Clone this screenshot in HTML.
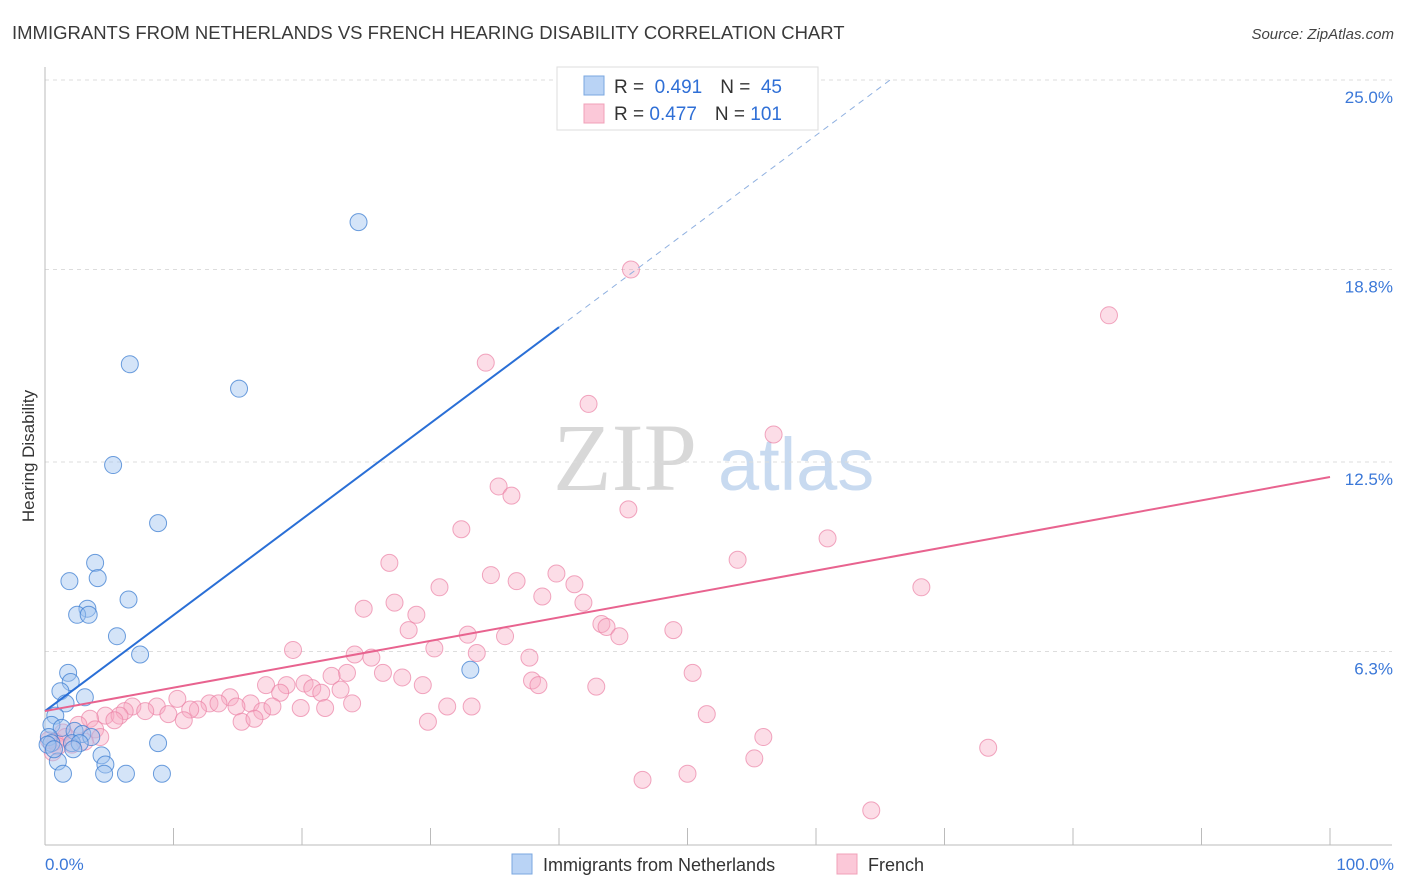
<!DOCTYPE html>
<html><head><meta charset="utf-8"><style>
body{margin:0;background:#fff;font-family:"Liberation Sans",sans-serif;}
svg{display:block}
</style></head><body>
<svg id="chart" width="1406" height="892" xmlns="http://www.w3.org/2000/svg">
<text x="12" y="39" font-size="18.5" fill="#3a3a3a">IMMIGRANTS FROM NETHERLANDS VS FRENCH HEARING DISABILITY CORRELATION CHART</text>
<text x="1394" y="39" font-size="15" fill="#444" text-anchor="end" font-style="italic">Source: ZipAtlas.com</text>
<g>
<text x="553" y="490" font-size="96" font-family="Liberation Serif,serif" fill="#d8d8d8">ZIP</text>
<text x="718" y="490" font-size="74" fill="#c8daf0">atlas</text>
</g>
<g id="grid"></g>
<g id="axes"></g>
<g id="pts"></g>
<g id="lines"></g>
<text transform="translate(34,456) rotate(-90)" font-size="17" fill="#333" text-anchor="middle">Hearing Disability</text>
<text x="45" y="870" font-size="17" fill="#3b78d8">0.0%</text>
<text x="1394" y="870" font-size="17" fill="#3b78d8" text-anchor="end">100.0%</text>
<g>
<rect x="557" y="67" width="261" height="63" fill="#fff" stroke="#ddd"/>
<rect x="584" y="76" width="20" height="19" fill="#b9d3f5" stroke="#7aa7e0"/>
<rect x="584" y="104" width="20" height="19" fill="#fbc8d8" stroke="#f0a0b8"/>
<text x="614" y="93" font-size="19" fill="#333">R = <tspan fill="#2f6fd6">&#160;0.491</tspan><tspan dx="18">N = </tspan><tspan fill="#2f6fd6">&#160;45</tspan></text>
<text x="614" y="120" font-size="19" fill="#333">R = <tspan fill="#2f6fd6">0.477</tspan><tspan dx="18">N = </tspan><tspan fill="#2f6fd6">101</tspan></text>
</g>
<g>
<rect x="512" y="854" width="20" height="20" fill="#b9d3f5" stroke="#7aa7e0"/>
<text x="543" y="871" font-size="18" fill="#333">Immigrants from Netherlands</text>
<rect x="837" y="854" width="20" height="20" fill="#fbc8d8" stroke="#f0a0b8"/>
<text x="868" y="871" font-size="18" fill="#333">French</text>
</g>
</svg>
<script>
const yTicks=[6.3,12.5,18.8,25.0];
const blueX=[24.4,6.6,15.1,5.3,8.8,3.9,1.9,4.1,6.5,3.3,2.5,3.4,5.6,7.4,33.1,1.8,2.0,1.2,3.1,1.6,0.8,0.5,1.3,0.3,2.3,2.9,3.6,0.5,2.1,2.7,0.2,2.2,8.8,4.4,1.0,4.7,1.4,4.6,6.3,9.1,0.7];
const blueY=[20.35,15.7,14.9,12.4,10.5,9.2,8.6,8.7,8.0,7.7,7.5,7.5,6.8,6.2,5.7,5.6,5.3,5.0,4.8,4.6,4.2,3.9,3.8,3.5,3.7,3.6,3.5,3.3,3.3,3.3,3.25,3.1,3.3,2.9,2.7,2.6,2.3,2.3,2.3,2.3,3.1];
const pinkX=[45.6,82.8,34.3,42.3,56.7,35.3,36.3,45.4,32.4,60.9,26.8,53.9,39.8,34.7,36.7,30.7,41.2,68.2,38.7,27.2,24.8,41.9,28.9,28.3,43.3,43.7,48.9,32.9,35.8,44.7,30.3,19.3,33.6,24.1,25.4,37.7,23.5,26.3,22.3,50.4,27.8,37.9,17.2,20.2,38.4,42.9,29.4,18.8,20.8,23.0,21.5,18.3,14.4,10.3,23.9,16.0,12.8,13.5,14.9,6.8,11.9,16.9,17.7,19.9,21.8,31.3,33.2,8.7,6.2,7.8,11.3,9.6,4.7,5.8,3.5,5.4,10.8,15.3,16.3,51.5,29.8,2.6,3.9,1.4,4.3,55.9,73.4,0.8,2.1,3.1,0.6,55.2,46.5,50.0,64.3,1.6,0.3,1.0];
const pinkY=[18.8,17.3,15.75,14.4,13.4,11.7,11.4,10.95,10.3,10.0,9.2,9.3,8.85,8.8,8.6,8.4,8.5,8.4,8.1,7.9,7.7,7.9,7.5,7.0,7.2,7.1,7.0,6.85,6.8,6.8,6.4,6.35,6.25,6.2,6.1,6.1,5.6,5.6,5.5,5.6,5.45,5.35,5.2,5.25,5.2,5.15,5.2,5.2,5.1,5.05,4.95,4.95,4.8,4.75,4.6,4.6,4.6,4.6,4.5,4.5,4.4,4.35,4.5,4.45,4.45,4.5,4.5,4.5,4.35,4.35,4.4,4.25,4.2,4.2,4.1,4.05,4.05,4.0,4.1,4.25,4.0,3.9,3.75,3.65,3.5,3.5,3.15,3.35,3.25,3.35,3.0,2.8,2.1,2.3,1.1,3.5,3.4,3.2];
const blueTrend=[4.35,0.314];
const pinkTrend=[4.35,0.0766];
const X=v=>45+v*12.85, Y=v=>844-v*30.56;
const NS="http://www.w3.org/2000/svg";
function mk(t,a,p){const e=document.createElementNS(NS,t);for(const k in a)e.setAttribute(k,a[k]);p.appendChild(e);return e;}
const grid=document.getElementById('grid'),axes=document.getElementById('axes'),pts=document.getElementById('pts'),lines=document.getElementById('lines');
yTicks.forEach(t=>{const yy=Y(t)-(t==25?(Y(25)-80):0);
const l=mk('line',{x1:45,x2:1392,y1:yy,y2:yy,stroke:'#ddd','stroke-dasharray':'4,4'},grid);


const tx=mk('text',{x:1393,y:yy+23,'font-size':17,fill:'#3b78d8','text-anchor':'end'},grid);tx.textContent=t.toFixed(1)+'%';

});
const ax=mk('line',{x1:45,x2:45,y1:67,y2:845,stroke:'#bbb'},axes);


const bx=mk('line',{x1:45,x2:1392,y1:845,y2:845,stroke:'#bbb'},axes);


for(let i=0;i<=10;i++){const t=mk('line',{x1:X(i*10),x2:X(i*10),y1:828,y2:845,stroke:'#bbb'},axes);

}
pinkX.forEach((v,i)=>{const c=mk('circle',{cx:X(v),cy:Y(pinkY[i]),r:8.5,fill:'rgba(248,170,195,0.4)',stroke:'rgba(235,130,165,0.7)','stroke-width':1},pts);

});
blueX.forEach((v,i)=>{const c=mk('circle',{cx:X(v),cy:Y(blueY[i]),r:8.5,fill:'rgba(160,195,240,0.45)',stroke:'rgba(60,125,210,0.75)','stroke-width':1},pts);

});
const bt=mk('line',{x1:X(0),y1:Y(blueTrend[0]),x2:X(40),y2:Y(blueTrend[0]+blueTrend[1]*40),stroke:'#2a6fd6','stroke-width':2},lines);


const bd=mk('line',{x1:X(40),y1:Y(blueTrend[0]+blueTrend[1]*40),x2:X(66),y2:Y(blueTrend[0]+blueTrend[1]*66),stroke:'#8fb0e0','stroke-width':1,'stroke-dasharray':'6,5'},lines);


const pt=mk('line',{x1:X(0),y1:Y(pinkTrend[0]),x2:X(100),y2:Y(pinkTrend[0]+pinkTrend[1]*100),stroke:'#e8638f','stroke-width':2},lines);


</script>
</body></html>
